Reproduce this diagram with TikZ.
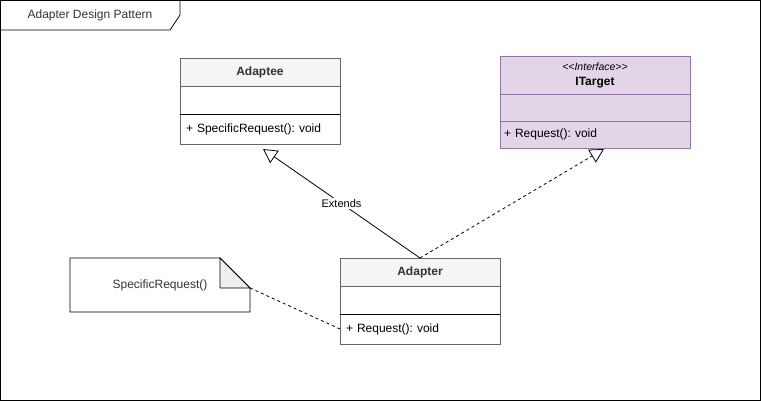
\documentclass[tikz,border=0pt]{standalone}
\usepackage{fontspec}
\setmainfont{Liberation Sans}
\usetikzlibrary{arrows.meta, positioning}
\definecolor{headfill}{HTML}{F5F5F5}
\definecolor{headline}{HTML}{666666}
\definecolor{headtext}{HTML}{333333}
\definecolor{ifacefill}{HTML}{E1D5E7}
\definecolor{ifaceline}{HTML}{9673A6}
\definecolor{foldfill}{HTML}{EFEFEF}
\frenchspacing

\begin{document}
\begin{tikzpicture}[
        x=1pt, y=-1pt, line width=0.8pt,
        every node/.style={inner sep=0pt, outer sep=0pt, font=\fontsize{12}{14}\selectfont},
        classhead/.style={rectangle, draw=headline, fill=headfill, text=headtext, minimum width=160pt, minimum height=28pt, font=\fontsize{12}{14}\selectfont\bfseries},
        classpart/.style={rectangle, draw=headline, fill=white, minimum width=160pt, minimum height=28pt},
        classops/.style={classpart, minimum height=30pt, text width=148pt, align=left},
        ifacehead/.style={rectangle, draw=ifaceline, fill=ifacefill, minimum width=190pt, minimum height=38pt, align=center},
        ifacepart/.style={rectangle, draw=ifaceline, fill=ifacefill, minimum width=190pt, minimum height=27pt, text width=182pt, align=left},
        extends/.style={-{Triangle[open, length=14pt, width=15pt]}},
        realizes/.style={-{Triangle[open, length=14pt, width=15pt]}, dash pattern=on 3pt off 3pt},
        anchorline/.style={dash pattern=on 3pt off 3pt},
        edgelabel/.style={fill=white, inner sep=1pt, font=\fontsize{11}{13}\selectfont}
    ]
        \useasboundingbox (0,0) rectangle (761,401);

        % Frame
        \draw (0.5,0.5) rectangle (760,400);
        \draw (0.5,30) -- (170,30) -- (180,15) -- (180,0.5);
        \node (frametitle) [text=headtext] at (90,15) {Adapter Design Pattern};

        % Classes
        \node (adaptee) [classhead, anchor=north west] at (180,58) {Adaptee};
        \node (adapteeattr) [classpart, below=0pt of adaptee] {};
        \node (adapteeops) [classops, below=0pt of adapteeattr] {+ SpecificRequest(): void};
        \draw (adapteeops.north west) -- (adapteeops.north east);

        \node (itarget) [ifacehead, anchor=north west] at (500,56) {{\fontsize{10.5}{12}\selectfont\itshape <{}<Interface>{}>}\\[1pt]\textbf{ITarget}};
        \node (itargetattr) [ifacepart, below=0pt of itarget] {};
        \node (itargetops) [ifacepart, below=0pt of itargetattr] {+ Request(): void};

        \node (adapter) [classhead, anchor=north west] at (340,258) {Adapter};
        \node (adapterattr) [classpart, below=0pt of adapter] {};
        \node (adapterops) [classops, below=0pt of adapterattr] {+ Request(): void};
        \draw (adapterops.north west) -- (adapterops.north east);

        % Note
        \node (note) [minimum width=180pt, minimum height=54pt, text=headtext, anchor=north west] at (70,258) {SpecificRequest()};
        \coordinate (fold) at ([yshift=-30pt]note.north east);
        \draw (note.north west) -- ([xshift=-30pt]note.north east) -- (fold) -- (note.south east) -- (note.south west) -- cycle;
        \draw [fill=foldfill] ([xshift=-30pt]note.north east) -- ([xshift=-30pt]fold) -- (fold) -- cycle;

        % Connectors
        \draw [extends] (adapter.north) -- node[edgelabel] {Extends} ([xshift=3pt, yshift=-5pt]adapteeops.south);
        \draw [realizes] (adapter.north) -- ([xshift=9pt, yshift=-1pt]itargetops.south);
        \draw [anchorline] (fold) -- (adapterops.west);
    \end{tikzpicture}
\end{document}
